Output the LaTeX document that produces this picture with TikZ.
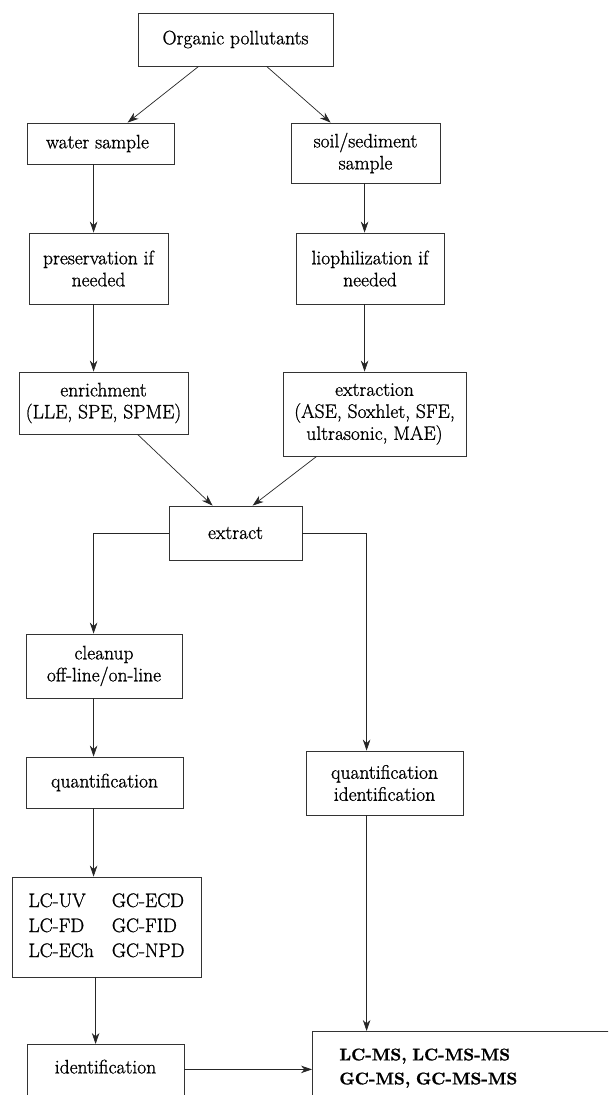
\documentclass[tikz,border=0pt]{standalone}
\usepackage{fontspec}
\setmainfont{Latin Modern Roman}
\newfontfamily\boxfont{Latin Modern Roman}[FakeBold=1]
\newfontfamily\heavyfont{lmroman10-bold.otf}[FakeBold=1]
\usetikzlibrary{arrows.meta}
\begin{document}
\begin{tikzpicture}[x=1pt,y=-1pt,
  box/.style={draw=black!80, line width=0.8pt, inner sep=0pt, align=center,
    font=\boxfont\fontsize{19.5}{22}\selectfont},
  arr/.style={draw=black!85, line width=0.7pt, -{Stealth[length=11pt,width=7.5pt,inset=3.5pt]}}]
\clip (0,0) rectangle (608,1095);
\fill[white] (0,0) rectangle (608,1095);

\node[box, minimum width=195pt, minimum height=53pt] (org) at (235.5,39.5) {Organic pollutants};
\node[box, minimum width=147pt, minimum height=41pt] (water) at (100.5,143.5) {water sample\hspace*{6pt}};
\node[box, minimum width=149pt, minimum height=60pt] (soil) at (365.5,153) {soil/sediment\\ sample};
\node[box, minimum width=139pt, minimum height=71pt] (pres) at (98.5,268.5) {preservation if\\ needed};
\node[box, minimum width=148pt, minimum height=71pt] (lioph) at (370,268.5) {liophilization if\\ needed};
\node[box, minimum width=169pt, minimum height=62pt] (enrich) at (103.5,403) {enrichment\\ (LLE, SPE, SPME)};
\node[box, minimum width=183pt, minimum height=84pt] (extr) at (374.5,414) {extraction\\ (ASE, Soxhlet, SFE,\\ ultrasonic, MAE)};
\node[box, minimum width=133pt, minimum height=54pt] (extract) at (235.5,533) {extract};
\node[box, minimum width=156pt, minimum height=64pt] (cleanup) at (104,666) {cleanup\\ off-line/on-line};
\node[box, minimum width=157pt, minimum height=51pt] (quant) at (104.5,782.5) {quantification};
\node[box, minimum width=157pt, minimum height=64pt] (qi) at (384.5,783) {quantification\\ identification};
\node[box, minimum width=189pt, minimum height=100pt] (lc) at (106.5,927) {\fontsize{19.5}{25}\selectfont
  \begin{tabular}{@{}l@{\hspace{18pt}}l@{}}
  LC-UV & GC-ECD\\ LC-FD & GC-FID\\ LC-ECh & GC-NPD
  \end{tabular}};
\node[box, anchor=north, minimum width=157pt, text height=29pt, text depth=40pt] (ident) at (105.5,1044) {identification};
\node[box, anchor=north west, align=left, inner xsep=27pt, inner ysep=0pt, text width=300pt,
  text height=29pt, text depth=50pt, font=\heavyfont\fontsize{17}{24}\selectfont] (lcms) at (312,1031)
  {LC-MS, LC-MS-MS\\ GC-MS, GC-MS-MS};

\draw[arr] ([xshift=61pt]org.south west) -- ([xshift=101pt]water.north west);
\draw[arr] ([xshift=129pt]org.south west) -- ([xshift=40pt]soil.north west);
\draw[arr] ([xshift=67pt]water.south west) -- ([xshift=67pt]water.south west |- pres.north);
\draw[arr] ([xshift=74pt]soil.south west) -- ([xshift=74pt]soil.south west |- lioph.north);
\draw[arr] ([xshift=65pt]pres.south west) -- ([xshift=65pt]pres.south west |- enrich.north);
\draw[arr] ([xshift=69pt]lioph.south west) -- ([xshift=69pt]lioph.south west |- extr.north);
\draw[arr] ([xshift=119pt]enrich.south west) -- ([xshift=44pt]extract.north west);
\draw[arr] ([xshift=34pt]extr.south west) -- ([xshift=84pt]extract.north west);
\draw[arr] (extract.west) -| ([xshift=68pt]cleanup.north west);
\draw[arr] (extract.east) -| ([xshift=61pt]qi.north west);
\draw[arr] ([xshift=68pt]cleanup.south west) -- ([xshift=68pt]cleanup.south west |- quant.north);
\draw[arr] ([xshift=68pt]quant.south west) -- ([xshift=68pt]quant.south west |- lc.north);
\draw[arr] ([xshift=84pt]lc.south west) -- ([xshift=84pt]lc.south west |- ident.north);
\draw[arr] ([xshift=61pt]qi.south west) -- ([xshift=61pt]qi.south west |- lcms.north);
\draw[arr] ([yshift=4pt]ident.base east) -- ([yshift=4pt]ident.base east -| lcms.west);
\end{tikzpicture}
\end{document}
